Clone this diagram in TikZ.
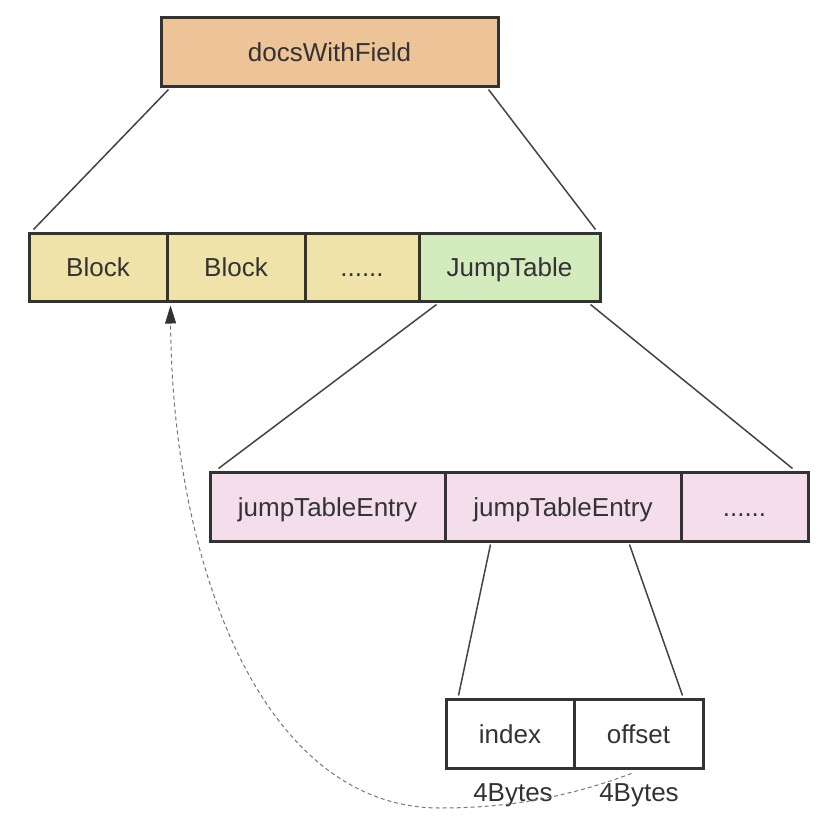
\documentclass[tikz,border=0pt]{standalone}
\usepackage{fontspec}
\setmainfont{Liberation Sans}
\usetikzlibrary{calc,arrows.meta}
\definecolor{cOrange}{HTML}{EDC398}
\definecolor{cYellow}{HTML}{EFE3AA}
\definecolor{cGreen}{HTML}{D3EBBD}
\definecolor{cPink}{HTML}{F4DEEB}
\definecolor{cLine}{HTML}{333333}
\definecolor{cConn}{HTML}{444444}
\definecolor{cDash}{HTML}{777777}
\tikzset{
  cell/.style={draw=cLine, line width=3pt, rectangle, inner sep=0pt, text=cLine,
    font=\fontsize{26}{30}\selectfont, text height=19pt, text depth=0pt},
  conn/.style={draw=cConn, line width=1.5pt},
  dashline/.style={draw=cDash, line width=1pt, dash pattern=on 4pt off 3pt,
    -{Triangle[length=18pt,width=11pt,fill=cLine,color=cLine]}},
  lbl/.style={text=cLine, font=\fontsize{26}{30}\selectfont, inner sep=0pt,
    text height=19pt, text depth=0pt}
}
\begin{document}
\begin{tikzpicture}[x=1pt,y=-1pt]
\useasboundingbox[fill=white] (0,0) rectangle (838,828);
% top
\node[cell, fill=cOrange, minimum width=337pt, minimum height=69pt] (top) at (329.5,51.5) {docsWithField};
% row 2
\node[cell, fill=cYellow, minimum width=138pt, minimum height=68pt] (b1) at (98,267) {Block};
\node[cell, fill=cYellow, minimum width=138pt, minimum height=68pt] (b2) at (236,267) {Block};
\node[cell, fill=cYellow, minimum width=114pt, minimum height=68pt] (b3) at (362,267) {......};
\node[cell, fill=cGreen, minimum width=181pt, minimum height=68pt] (jt) at (509.5,267) {JumpTable};
% row 3
\node[cell, fill=cPink, minimum width=235pt, minimum height=69pt] (e1) at (327.5,506.5) {jumpTableEntry};
\node[cell, fill=cPink, minimum width=236pt, minimum height=69pt] (e2) at (563,506.5) {jumpTableEntry};
\node[cell, fill=cPink, minimum width=127pt, minimum height=69pt] (e3) at (744.5,506.5) {......};
% row 4
\node[cell, fill=white, minimum width=128pt, minimum height=69pt] (idx) at (510,733.5) {index};
\node[cell, fill=white, minimum width=129pt, minimum height=69pt] (off) at (638.5,733.5) {offset};
\node[lbl] (l1) at (513,792) {4Bytes};
\node[lbl] (l2) at (639,792) {4Bytes};
% connectors
\draw[conn] ($(top.south west)+(9,2)$) -- ($(b1.north west)+(6,-2)$);
\draw[conn] ($(top.south east)+(-11,2)$) -- ($(jt.north east)+(-6,-2)$);
\draw[conn] ($(jt.south west)+(19,2)$) -- ($(e1.north west)+(10,-2)$);
\draw[conn] ($(jt.south east)+(-11,2)$) -- ($(e3.north east)+(-17,-2)$);
\draw[conn] ($(e2.south west)+(47,2)$) -- ($(idx.north west)+(14,-2)$);
\draw[conn] ($(e2.south east)+(-53,2)$) -- ($(off.north east)+(-22,-2)$);
% dashed back reference
\coordinate (mid) at (440,808);
\draw[dashline] ($(off.south west)+(59,4)$) .. controls (560,800) and (500,808) .. (mid)
  .. controls (260,808) and (172,560) .. ($(b2.south west)+(5,3)$);
\end{tikzpicture}
\end{document}
